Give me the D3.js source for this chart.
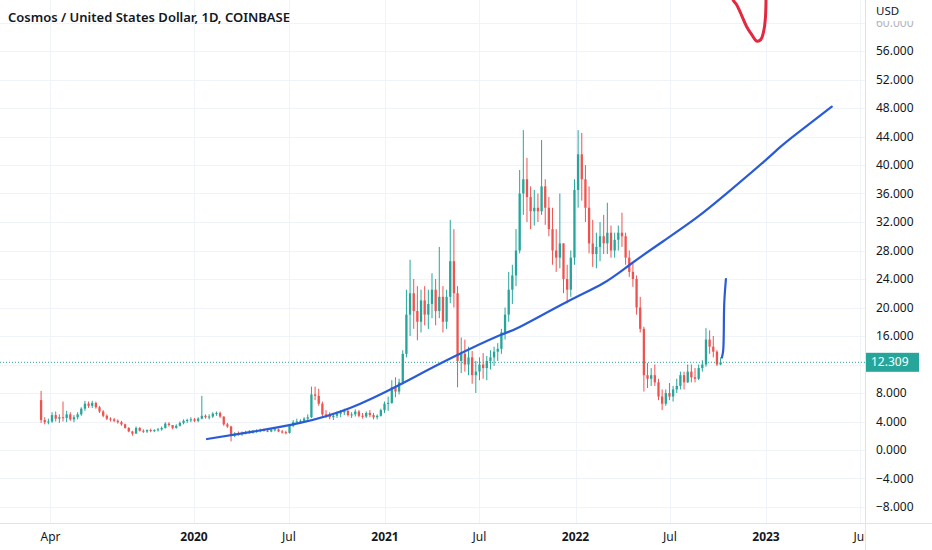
<!DOCTYPE html>
<html><head><meta charset="utf-8">
<script src="https://cdn.jsdelivr.net/npm/d3@7"></script>
<style>
body{margin:0;background:#fff;}
svg{display:block;font-family:"Noto Sans",Roboto,sans-serif;}
</style>
</head><body>
<svg id="chart" width="932" height="550"></svg>
<script>
// ---------- DATA (weekly candles) ----------
const weekStart = "2019-03-14";
const firstOpen = 7.0;
const closes = [
4.2,3.9,4.0,4.9,4.4,4.6,4.5,5.0,4.3,4.6,
5.0,5.8,6.5,6.2,6.6,6.0,5.4,4.8,4.4,4.3,
4.1,3.9,3.6,3.1,2.6,2.3,3.1,2.7,2.6,2.8,
2.7,2.8,2.9,3.1,3.7,3.5,3.1,3.4,3.8,4.1,
4.2,4.3,4.1,4.4,4.8,4.6,4.7,5.1,5.2,4.7,
3.6,3.3,2.0,2.3,2.2,2.4,2.5,2.5,2.6,2.7,
2.8,2.7,2.6,2.8,2.9,2.6,2.5,2.4,3.4,3.9,
4.0,4.1,4.4,4.6,7.8,7.6,6.5,5.0,4.9,4.6,
4.8,5.1,5.3,5.5,4.9,5.0,5.4,4.8,4.7,5.2,
4.9,4.6,4.8,5.6,6.5,6.6,8.8,8.2,9.5,13.5,
19.0,22.0,19.5,18.0,21.0,19.0,20.5,22.5,19.5,21.5,
18.0,21.5,26.5,22.0,12.5,13.5,12.0,13.0,10.5,11.0,
12.0,11.5,12.5,13.0,13.8,14.2,16.5,19.0,22.5,24.5,
28.0,36.0,38.0,35.5,33.5,34.0,33.5,37.0,34.0,31.0,
28.0,27.0,29.0,24.0,22.5,27.0,36.5,41.5,38.0,34.0,
29.0,27.5,28.5,30.0,29.0,30.5,28.0,29.5,30.5,30.0,
27.0,25.0,24.0,20.0,17.0,10.5,10.0,10.5,9.5,7.5,
6.5,8.0,7.5,8.5,9.0,10.5,9.5,11.0,10.2,10.0,
11.5,12.0,15.5,14.5,13.8,12.0,12.309
];
const highs = [
8.3,4.6,4.4,5.3,5.4,5.0,6.8,5.5,5.3,4.9,
5.3,6.0,6.9,6.8,6.9,6.8,6.2,5.6,5.0,4.6,
4.5,4.3,4.1,3.7,3.2,2.7,3.3,3.2,2.9,2.9,
3.0,2.9,3.1,3.3,3.9,3.9,3.5,3.6,4.0,4.3,
4.4,4.6,4.5,4.6,7.6,5.0,5.0,5.3,5.4,5.4,
4.7,3.8,3.4,2.5,2.6,2.6,2.7,2.8,2.8,2.9,
3.0,3.0,2.9,3.0,3.1,3.0,2.8,2.7,3.6,4.2,
4.4,4.3,4.6,5.0,8.9,8.9,8.6,6.8,5.6,5.3,
5.2,5.4,5.6,5.8,5.6,5.3,5.7,5.6,5.2,5.4,
5.6,5.2,5.0,5.8,6.8,7.5,9.8,10.2,10.0,14.0,
22.5,26.7,24.0,23.0,22.5,23.0,22.5,24.8,24.0,28.5,
23.0,22.5,32.3,31.0,23.0,15.8,15.5,14.5,13.9,12.5,
13.0,13.6,13.2,14.0,14.5,15.0,17.0,20.0,25.0,26.0,
31.0,39.3,44.9,41.0,37.0,36.5,36.0,43.5,38.0,35.5,
34.0,31.0,36.0,29.0,26.0,28.0,38.0,44.9,44.5,40.0,
37.0,32.3,30.5,32.0,33.0,34.7,31.5,30.5,31.5,33.3,
30.5,28.0,26.2,24.5,21.5,17.3,12.2,11.5,12.0,10.0,
8.5,8.5,9.4,9.0,10.0,11.0,11.0,12.0,12.0,11.5,
12.0,12.6,17.1,16.8,16.0,14.0,13.0
];
const lows = [
3.8,3.6,3.6,3.8,4.0,3.8,4.0,3.9,4.1,3.9,
4.3,4.8,5.5,5.9,5.9,5.8,5.2,4.6,4.2,4.0,
3.9,3.7,3.4,3.0,2.5,2.0,2.3,2.6,2.4,2.4,
2.5,2.5,2.6,2.7,3.0,3.3,2.9,3.0,3.3,3.6,
3.8,3.9,3.9,3.9,4.3,4.4,4.3,4.5,4.8,4.5,
3.4,3.1,1.2,1.8,2.0,2.0,2.2,2.3,2.3,2.4,
2.5,2.6,2.5,2.5,2.6,2.5,2.3,2.2,2.3,3.2,
3.7,3.7,3.8,4.0,4.5,7.0,6.2,4.7,4.5,4.3,
4.2,4.5,4.6,4.9,4.7,4.5,4.7,4.6,4.4,4.5,
4.6,4.3,4.3,4.7,5.2,5.5,6.5,7.4,7.8,9.2,
13.0,16.0,17.0,15.4,16.5,17.5,17.0,18.5,17.5,18.5,
16.5,17.0,20.6,20.0,8.8,10.8,11.0,10.5,9.3,8.0,
9.8,10.0,9.8,11.3,11.8,12.5,13.5,15.5,18.0,20.5,
23.0,27.6,33.0,32.0,31.0,31.5,32.0,33.0,31.6,30.0,
26.0,25.0,25.5,22.0,20.6,21.5,26.0,34.0,35.0,32.0,
27.6,25.7,25.5,26.5,27.5,27.5,27.0,27.0,28.0,28.5,
26.0,24.3,22.9,19.0,16.5,8.2,8.7,9.0,9.0,7.0,
5.6,6.2,7.0,6.8,8.0,8.5,8.5,9.4,9.5,9.5,
9.8,11.0,11.7,13.5,13.0,11.8,11.9
];
const lastPrice = 12.309;

// blue drawn curve
const trendDates = ["2020-01-26","2020-04-17","2020-07-22","2020-10-26","2021-01-30","2021-05-05",
  "2021-08-09","2021-09-17","2021-12-16","2022-02-23","2022-04-15","2022-06-18","2022-08-21",
  "2022-10-24","2022-12-27","2023-01-28","2023-03-01","2023-05-07"];
const trendValues = [1.54,2.5,3.8,5.9,9.2,12.8,16.1,17.3,20.8,23.4,26.0,29.3,32.6,36.4,40.4,42.5,44.4,48.2];

// short blue stroke after last candle
const hookDates = ["2022-10-08T12:00","2022-10-11T00:00","2022-10-13T00:00","2022-10-16T05:00"];
const hookValues = [12.98,14.0,20.6,24.0];

// red scribble at top
const redDates = ["2022-10-28","2022-10-30","2022-11-06","2022-11-15","2022-11-25","2022-12-05",
  "2022-12-14","2022-12-22","2022-12-28","2022-12-31","2023-01-01","2023-01-01"];
const redValues = [64.5,63.16,62.46,61.05,59.4,58.25,57.4,57.6,58.95,60.8,63.16,64.5];

const priceTicks = [-8,-4,0,4,8,12,16,20,24,28,32,36,40,44,48,52,56,60];
const timeTickDates = ["2019-04-01","2020-01-01","2020-07-01","2021-01-01","2021-07-01","2022-01-01","2022-07-01","2023-01-01","2023-07-01"];
const timeTickLabels = ["Apr","2020","Jul","2021","Jul","2022","Jul","2023","Jul"];
const timeTickBold = [false,true,false,true,false,true,false,true,false];
const title = "Cosmos / United States Dollar, 1D, COINBASE";
const currency = "USD";

// ---------- CHART ----------
const W = 932, H = 550, plotR = 865, plotB = 523;
const svg = d3.select("#chart");
const parse = s => new Date(s + (s.length === 10 ? "T00:00:00Z" : ":00Z"));

const x = d3.scaleUtc().domain([parse("2020-01-01"), parse("2023-01-01")]).range([194, 766]);
const y = d3.scaleLinear().domain([0, 56]).range([450, 51]);

const defs = svg.append("defs");
defs.append("clipPath").attr("id","plotClip").append("rect").attr("x",0).attr("y",0).attr("width",plotR).attr("height",plotB);
defs.append("clipPath").attr("id","xlabClip").append("rect").attr("x",0).attr("y",plotB).attr("width",plotR).attr("height",H-plotB);
defs.append("clipPath").attr("id","topTickClip").append("rect").attr("x",plotR).attr("y",21).attr("width",W-plotR).attr("height",20);

svg.append("rect").attr("width",W).attr("height",H).attr("fill","#fff");

const grid = svg.append("g").attr("clip-path","url(#plotClip)");
grid.selectAll("line.h").data(priceTicks).join("line")
  .attr("x1",0).attr("x2",plotR).attr("y1",d=>Math.round(y(d))+0.5).attr("y2",d=>Math.round(y(d))+0.5)
  .attr("stroke","#f0f3fa").attr("stroke-width",1);
grid.selectAll("line.v").data(timeTickDates).join("line")
  .attr("y1",0).attr("y2",plotB).attr("x1",d=>Math.round(x(parse(d)))+0.5).attr("x2",d=>Math.round(x(parse(d)))+0.5)
  .attr("stroke","#f0f3fa").attr("stroke-width",1);

// candles
const candles = closes.map((c,i)=>{
  const o = i===0 ? firstOpen : closes[i-1];
  return {date:d3.utcDay.offset(parse(weekStart), 7*i), o, c,
          h:Math.max(highs[i],o,c), l:Math.min(lows[i],o,c)};
});
const plot = svg.append("g").attr("clip-path","url(#plotClip)");
const up = "#26a69a", down = "#ef5350";
const cg = plot.append("g");
const bw = 2.3;
const cs = cg.selectAll("g").data(candles).join("g");
cs.append("line")
  .attr("x1",d=>x(d.date)).attr("x2",d=>x(d.date))
  .attr("y1",d=>y(d.h)).attr("y2",d=>y(d.l))
  .attr("stroke",d=>d.c>=d.o?up:down).attr("stroke-width",1);
cs.append("rect")
  .attr("x",d=>x(d.date)-bw/2).attr("width",bw)
  .attr("y",d=>y(Math.max(d.o,d.c)))
  .attr("height",d=>Math.max(1,Math.abs(y(d.o)-y(d.c))))
  .attr("fill",d=>d.c>=d.o?up:down);

// last price dotted line
plot.append("line").attr("x1",0).attr("x2",plotR)
  .attr("y1",y(lastPrice)).attr("y2",y(lastPrice))
  .attr("stroke",up).attr("stroke-width",1).attr("stroke-dasharray","1,2");

// blue curve
const line = d3.line().x(d=>x(d[0])).y(d=>y(d[1])).curve(d3.curveNatural);
plot.append("path").datum(trendDates.map((d,i)=>[parse(d),trendValues[i]]))
  .attr("d",line).attr("fill","none").attr("stroke","#2a5bd7").attr("stroke-width",2.2).attr("stroke-linecap","round");
const line2 = d3.line().x(d=>x(d[0])).y(d=>y(d[1])).curve(d3.curveCatmullRom);
plot.append("path").datum(hookDates.map((d,i)=>[parse(d),hookValues[i]]))
  .attr("d",line2).attr("fill","none").attr("stroke","#2a5bd7").attr("stroke-width",2.2).attr("stroke-linecap","round");

// red scribble
plot.append("path").datum(redDates.map((d,i)=>[parse(d),redValues[i]]))
  .attr("d",line2).attr("fill","none").attr("stroke","#e3283f").attr("stroke-width",3).attr("stroke-linecap","round");

// axes borders
svg.append("line").attr("x1",plotR+0.5).attr("x2",plotR+0.5).attr("y1",0).attr("y2",H).attr("stroke","#e0e3eb");
svg.append("line").attr("x1",0).attr("x2",W).attr("y1",plotB+0.5).attr("y2",plotB+0.5).attr("stroke","#e0e3eb");

// price axis labels (12 is covered by the last-price tag, 60 is partly under the unit)
const pa = svg.append("g").attr("font-size",12).attr("fill","#131722");
pa.selectAll("text").data(priceTicks.filter(d=>d!==60 && d!==12)).join("text")
  .attr("x",876).attr("y",d=>y(d)).attr("dy","0.35em")
  .text(d=>d3.format(".3f")(d).replace("-","\u2212"));
svg.append("g").attr("clip-path","url(#topTickClip)").append("text")
  .attr("x",876).attr("y",y(60)).attr("dy","0.35em").attr("font-size",12).attr("fill","#b2b5be")
  .text(d3.format(".3f")(60));
svg.append("text").attr("x",876).attr("y",11).attr("dy","0.35em").attr("font-size",11.5).attr("fill","#131722").text(currency);

// last price label
const ly = y(lastPrice);
svg.append("rect").attr("x",plotR+1).attr("y",ly-9.5).attr("width",53).attr("height",19).attr("fill",up);
svg.append("text").attr("x",871).attr("y",ly).attr("dy","0.35em").attr("font-size",12).attr("fill","#fff").text(d3.format(".3f")(lastPrice));

// time axis labels
const ta = svg.append("g").attr("clip-path","url(#xlabClip)").attr("font-size",12).attr("fill","#131722");
ta.selectAll("text").data(timeTickDates).join("text")
  .attr("x",d=>x(parse(d))).attr("y",537).attr("dy","0.35em").attr("text-anchor","middle")
  .attr("font-weight",(d,i)=>timeTickBold[i]?700:400)
  .text((d,i)=>timeTickLabels[i]);

// title
svg.append("text").attr("x",8).attr("y",17).attr("dy","0.35em").attr("font-size",13).attr("font-weight",600)
  .attr("fill","#131722").text(title);
</script>
</body></html>
